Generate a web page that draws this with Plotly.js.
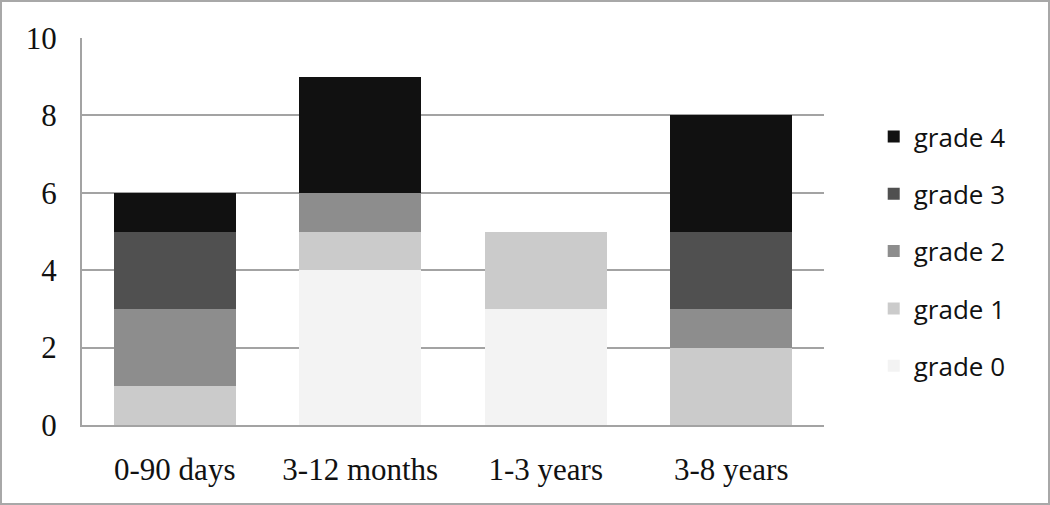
<!DOCTYPE html>
<html>
<head>
<meta charset="utf-8">
<script src="https://cdn.plot.ly/plotly-3.0.1.min.js"></script>
<style>
  body { margin: 0; background: #fff; }
  #chart { width: 1050px; height: 505px; box-sizing: border-box; border: 2px solid #a8a8a8; }
</style>
</head>
<body>
<div id="chart"></div>
<script>
// categorias e valores
const categories = ['0-90 days', '3-12 months', '1-3 years', '3-8 years'];
const grade0 = [0, 4, 3, 0];
const grade1 = [1, 1, 2, 2];
const grade2 = [2, 1, 0, 1];
const grade3 = [2, 0, 0, 2];
const grade4 = [1, 3, 0, 3];
const seriesNames = ['grade 0', 'grade 1', 'grade 2', 'grade 3', 'grade 4'];
const seriesColors = ['#f3f3f3', '#cbcbcb', '#8d8d8d', '#505050', '#111111'];
const yTicks = [0, 2, 4, 6, 8, 10];

const traces = [grade0, grade1, grade2, grade3, grade4].map((vals, i) => ({
    type: 'bar',
    x: categories,
    y: vals,
    name: seriesNames[i],
    legendgroup: 'g' + i,
    legendrank: 100 - i, // grade 4 no topo
    marker: { color: seriesColors[i], line: { width: 0 } },
    hoverinfo: 'none'
}));

const layout = {
    barmode: 'stack',
    bargap: 0.34,
    width: 1046,
    height: 501,
    margin: { l: 80, r: 224, t: 36, b: 78 },
    paper_bgcolor: '#fff',
    plot_bgcolor: '#fff',
    showlegend: true,
    legend: {
        x: 1.067, xanchor: 'left',
        y: 0.806, yanchor: 'top',
        traceorder: 'grouped',
        tracegroupgap: 20.5,
        font: { family: 'Open Sans, Liberation Sans, sans-serif', size: 26, color: '#111' },
        itemwidth: 30
    },
    xaxis: {
        showline: true, linecolor: '#a3a3a3', linewidth: 2,
        ticks: '', ticklabelstandoff: 16,
        tickfont: { family: 'Liberation Serif, serif', size: 31, color: '#111' }
    },
    yaxis: {
        range: [0, 10],
        tickvals: yTicks,
        showline: true, linecolor: '#a3a3a3', linewidth: 2,
        showgrid: true, gridcolor: '#a3a3a3', gridwidth: 2,
        zeroline: false,
        ticks: '', ticklabelstandoff: 17,
        tickfont: { family: 'Liberation Serif, serif', size: 31, color: '#111' }
    }
};

Plotly.newPlot('chart', traces, layout, { displayModeBar: false, staticPlot: true });
</script>
</body>
</html>
